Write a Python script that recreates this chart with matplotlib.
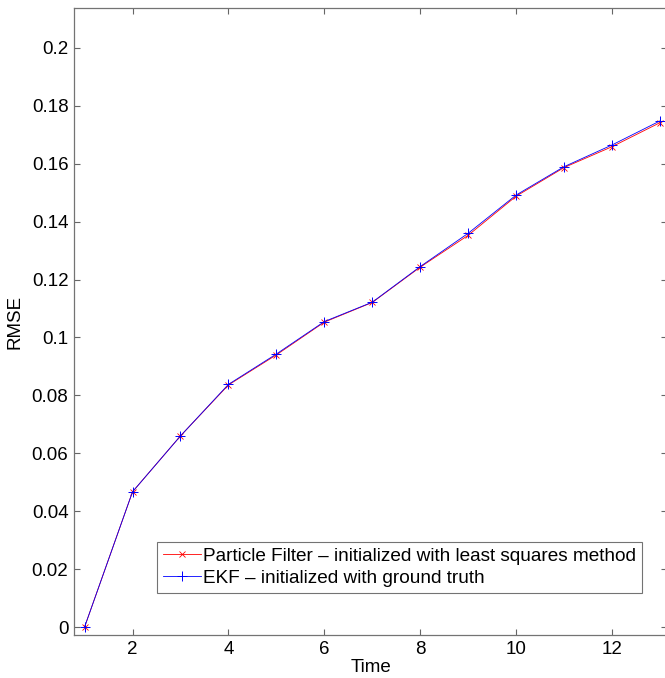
import matplotlib
matplotlib.use('Agg')
import matplotlib.pyplot as plt
from matplotlib.ticker import FormatStrFormatter

plt.rcParams['font.family'] = ['Liberation Sans', 'DejaVu Sans']

# Data
# ----------------------------------------------------------------------------

time = [1, 2, 3, 4, 5, 6, 7, 8, 9, 10, 11, 12, 13]
rmse_pf = [0.0, 0.0467, 0.0660, 0.0836, 0.0940, 0.1053, 0.1121, 0.1243, 0.1353,
           0.1488, 0.1587, 0.1659, 0.1742]
rmse_ekf = [0.0, 0.0467, 0.0660, 0.0838, 0.0943, 0.1055, 0.1122, 0.1245, 0.1360,
            0.1492, 0.1590, 0.1665, 0.1748]

xticks = [2, 4, 6, 8, 10, 12]
yticks = [0, 0.02, 0.04, 0.06, 0.08, 0.1, 0.12, 0.14, 0.16, 0.18, 0.2]

# Plot
# ----------------------------------------------------------------------------

fig = plt.figure(figsize=(6.65, 6.78), dpi=100)
ax = fig.add_axes([0.1113, 0.0634, 0.892, 0.9248])

ax.plot(time, rmse_pf, color='r', marker='x', ms=5, mew=0.6, lw=0.6,
        label='Particle Filter \u2013 initialized with least squares method')
ax.plot(time, rmse_ekf, color='b', marker='+', ms=7, mew=0.7, lw=0.6,
        label='EKF \u2013 initialized with ground truth')

ax.set_xlim(0.78, 13.15)
ax.set_ylim(-0.00276, 0.2138)
ax.set_xticks(xticks)
ax.set_yticks(yticks)
ax.yaxis.set_major_formatter(FormatStrFormatter('%g'))

ax.tick_params(direction='in', length=4.5, width=0.8, color='0.4',
               top=True, right=True, labelsize=13.5, pad=4)
for sp in ax.spines.values():
    sp.set_color('0.45')
    sp.set_linewidth(0.9)

ax.set_xlabel('Time', fontsize=13.5, labelpad=1)
ax.set_ylabel('RMSE', fontsize=13.5, labelpad=6)

leg = ax.legend(loc='lower right', bbox_to_anchor=(0.9575, 0.0675), fontsize=13.7,
                handlelength=2.0, handletextpad=0.1, borderpad=0.32,
                labelspacing=0.22, borderaxespad=0, fancybox=False,
                framealpha=1, edgecolor='0.45')
leg.get_frame().set_linewidth(0.8)

fig.savefig('out.png', dpi=100)
